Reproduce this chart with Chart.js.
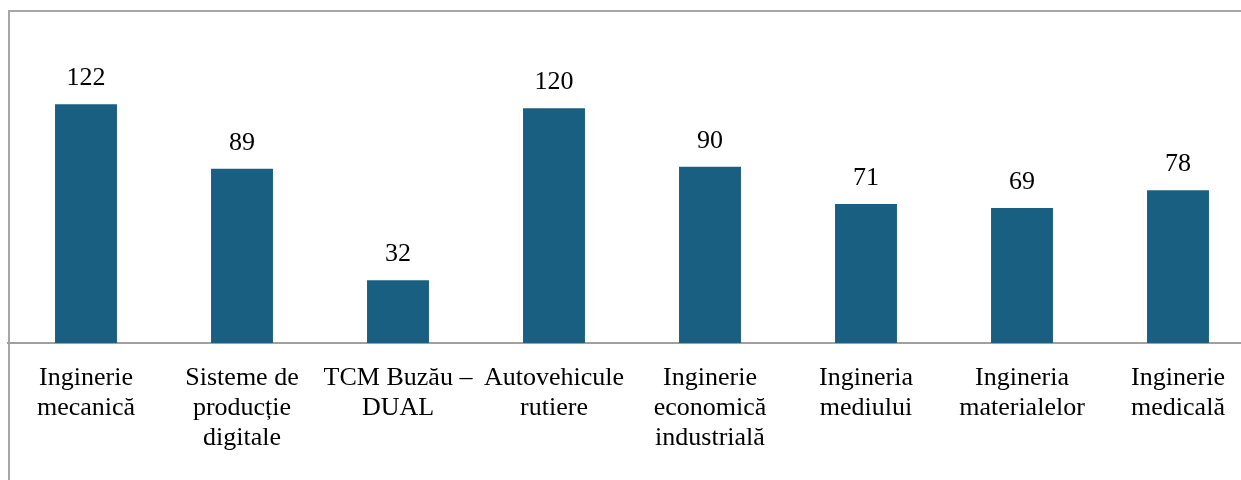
<!DOCTYPE html>
<html>
<head>
<meta charset="utf-8">
<script src="https://cdn.jsdelivr.net/npm/chart.js@4/dist/chart.umd.min.js"></script>
<style>
  html, body { margin: 0; padding: 0; background: #fff; overflow: hidden; }
  #wrap { position: absolute; left: 0; top: 0; width: 1241px; height: 480px; overflow: hidden; }
  #frame { position: absolute; left: 8px; top: 10px; width: 1300px; height: 600px;
           border-left: 2px solid #a6a6a6; border-top: 2px solid #a6a6a6; box-sizing: border-box; }
  #c { position: absolute; left: 0; top: 0; }
</style>
</head>
<body>
<div id="wrap">
  <div id="frame"></div>
  <canvas id="c" width="1264" height="480"></canvas>
</div>
<script>
const categories = [
  ["Inginerie", "mecanică"],
  ["Sisteme de", "producție", "digitale"],
  ["TCM Buzău –", "DUAL"],
  ["Autovehicule", "rutiere"],
  ["Inginerie", "economică", "industrială"],
  ["Ingineria", "mediului"],
  ["Ingineria", "materialelor"],
  ["Inginerie", "medicală"]
];
const values = [122, 89, 32, 120, 90, 71, 69, 78];
const yMax = 140;

const valueLabels = {
  id: 'valueLabels',
  afterDatasetsDraw(chart) {
    const ctx = chart.ctx;
    const meta = chart.getDatasetMeta(0);
    ctx.save();
    ctx.font = '26px "Liberation Serif", "Times New Roman", serif';
    ctx.fillStyle = '#000';
    ctx.textAlign = 'center';
    ctx.textBaseline = 'middle';
    meta.data.forEach((bar, i) => {
      ctx.fillText(String(values[i]), bar.x, bar.y - 26);
    });
    ctx.restore();
  }
};

new Chart(document.getElementById('c'), {
  type: 'bar',
  data: {
    labels: categories,
    datasets: [{
      data: values,
      backgroundColor: '#195f82',
      borderWidth: 0,
      barPercentage: 1,
      categoryPercentage: 0.397
    }]
  },
  options: {
    responsive: false,
    animation: false,
    devicePixelRatio: 1,
    layout: { padding: { left: 8, right: 8, top: 69, bottom: 0 } },
    plugins: { legend: { display: false }, tooltip: { enabled: false } },
    scales: {
      x: {
        grid: { display: false },
        border: { display: true, color: '#a0a0a0', width: 2 },
        ticks: {
          color: '#000',
          font: { family: '"Liberation Serif", "Times New Roman", serif', size: 26, lineHeight: 1.15 },
          padding: 12,
          maxRotation: 0,
          autoSkip: false
        },
        afterFit(scale) { scale.height = 137; }
      },
      y: {
        display: false,
        min: 0,
        max: yMax
      }
    }
  },
  plugins: [valueLabels]
});
</script>
</body>
</html>
